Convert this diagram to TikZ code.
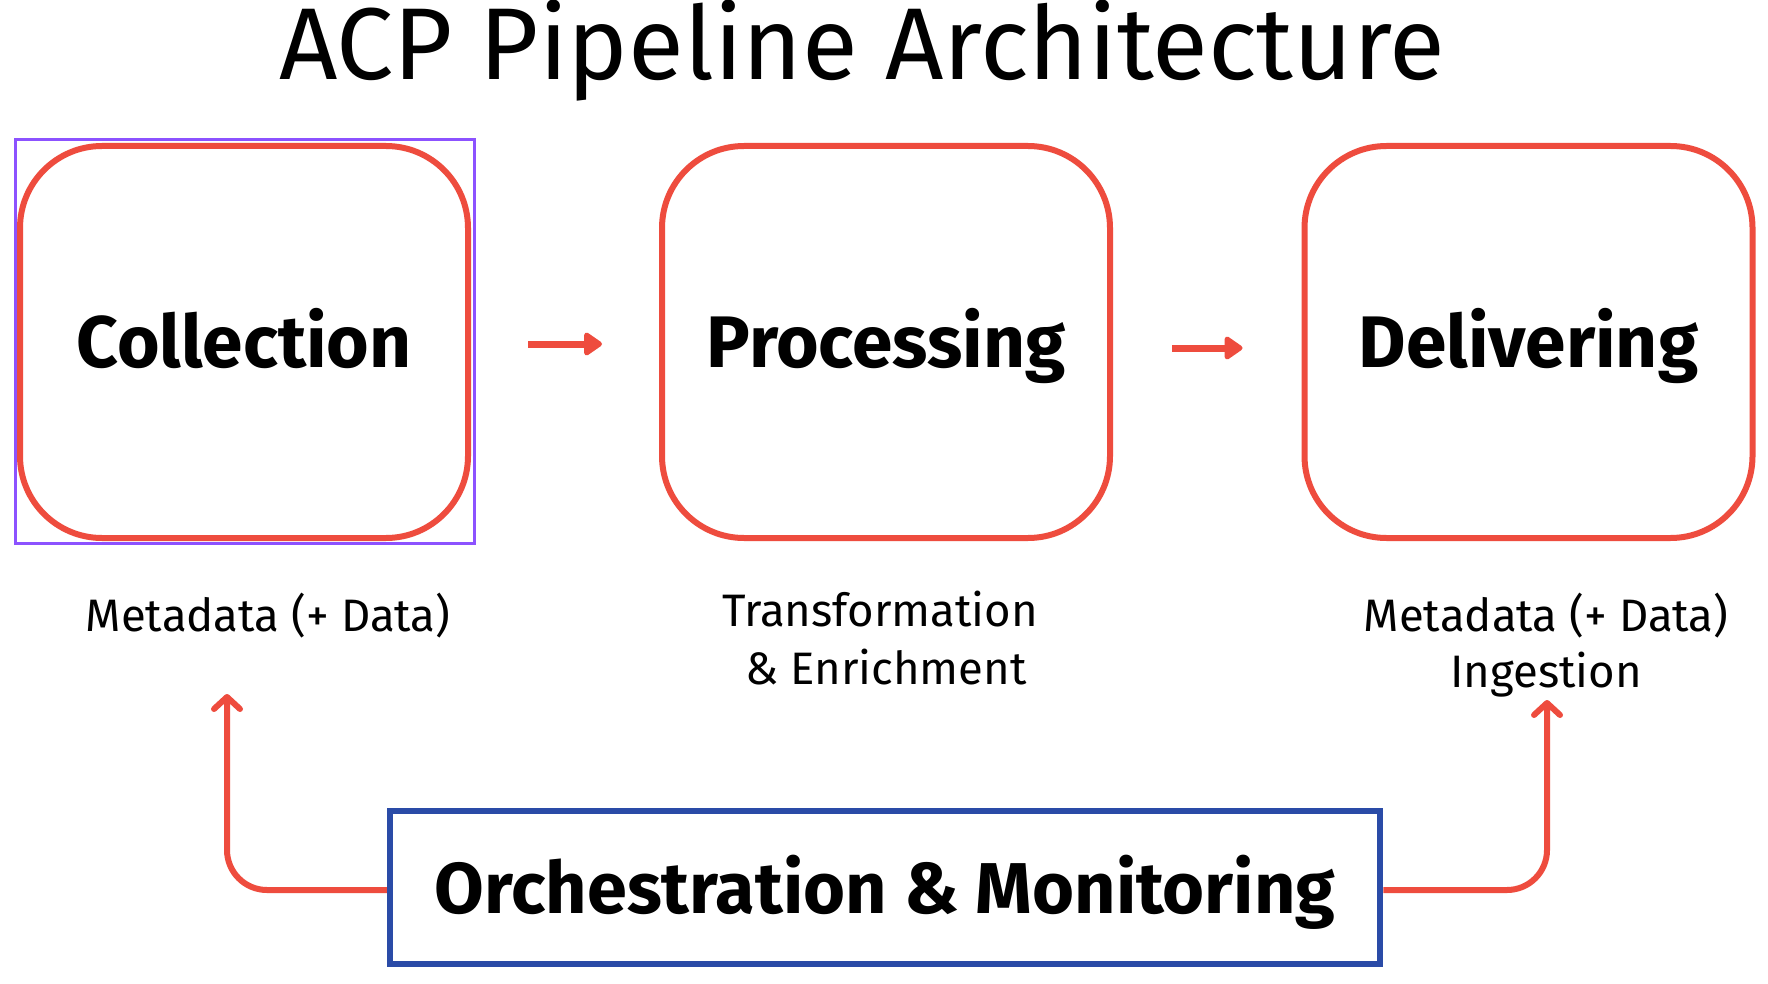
\documentclass[tikz,border=0pt]{standalone}
\usepackage{fontspec}
\setmainfont{Fira Sans}
\usetikzlibrary{arrows.meta}
\definecolor{redc}{RGB}{238,76,62}
\definecolor{purplec}{RGB}{140,82,255}
\definecolor{bluec}{RGB}{42,75,167}
\begin{document}
\begin{tikzpicture}[x=1pt,y=-1pt,
  stagebox/.style={draw=redc, line width=6pt, rounded corners=82pt,
    minimum width=448pt, minimum height=392pt, inner sep=0pt,
    font=\fontsize{73}{84}\selectfont\bfseries, text height=60pt, text depth=10pt},
  selbox/.style={draw=purplec, line width=3pt, minimum width=459.5pt,
    minimum height=404pt, inner sep=0pt},
  orchbox/.style={draw=bluec, line width=6.5pt, minimum width=990pt,
    minimum height=153pt, inner sep=0pt,
    font=\fontsize{72}{82}\selectfont\bfseries, text height=60pt, text depth=9pt},
  lbl/.style={font=\fontsize{45.5}{52}\selectfont, inner sep=0pt, anchor=base},
  flowarrow/.style={draw=redc, line width=7pt,
    -{Triangle[length=20pt,width=26pt,round]}},
  conn/.style={draw=redc, line width=6pt, rounded corners=40pt,
    -{Straight Barb[length=12pt,width=26pt,round]}}]
\useasboundingbox (0,0) rectangle (1768,984);
\fill[white] (0,0) rectangle (1768,984);

\node[font=\fontsize{102}{116}\selectfont, inner sep=0pt, anchor=base] (title) at (862,80) {ACP Pipeline Architecture};

\node[selbox] (sel) at (244.75,341.5) {};
\node[stagebox] (col) at (244,342) {Collection};
\node[stagebox] (proc) at (886,342) {Processing};
\node[stagebox] (del) at (1528.5,342) {Delivering};

\draw[flowarrow] ([xshift=57pt,yshift=-2pt]col.east) -- ([xshift=-57pt,yshift=-2pt]proc.west);
\draw[flowarrow] ([xshift=59pt,yshift=-6pt]proc.east) -- ([xshift=-59pt,yshift=-6pt]del.west);

\node[lbl] (lcol) at (268,631) {Metadata (+ Data)};
\node[lbl] (lproc1) at (880,626) {Transformation};
\node[lbl] (lproc2) at (886,684) {\& Enrichment};
\node[lbl] (ldel1) at (1546,631) {Metadata (+ Data)};
\node[lbl] (ldel2) at (1546,687) {Ingestion};

\node[orchbox] (orch) at (885,887.5) {Orchestration \& Monitoring};

\coordinate (ltip) at (227,694);
\coordinate (rtip) at (1547,700);
\draw[conn] ([yshift=-2.5pt]orch.west) -| (ltip);
\draw[conn] ([yshift=-2.5pt]orch.east) -| (rtip);
\end{tikzpicture}
\end{document}
